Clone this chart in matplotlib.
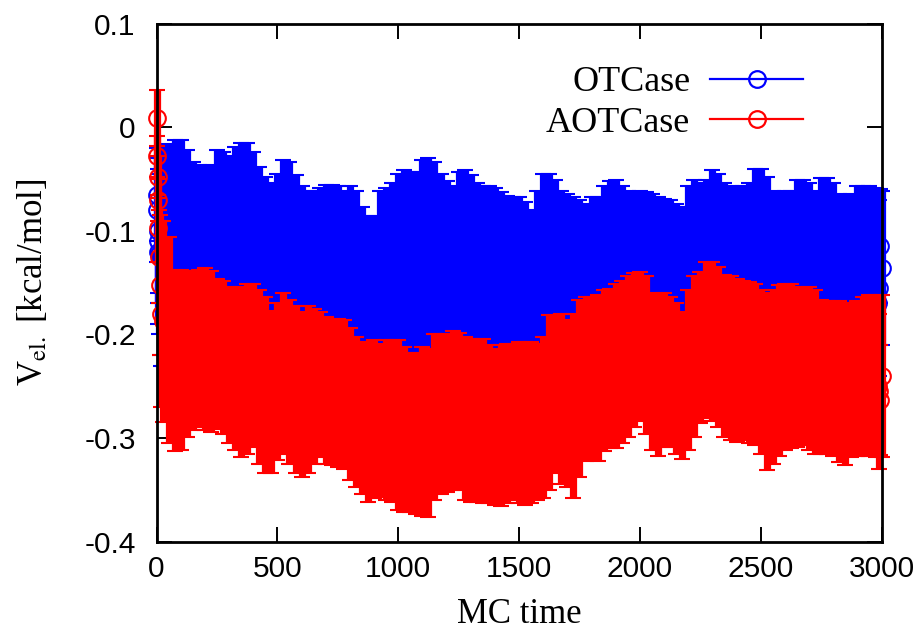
import numpy as np
import matplotlib
matplotlib.use("Agg")
import matplotlib.pyplot as plt
from matplotlib.lines import Line2D

# ================================
# DATA (error bar ends)
# ================================
t_start = [0, 2, 4, 6, 8, 10, 15, 20]
t_end = [2985, 2990, 2995, 3000]
mc_time = np.array(t_start + list(range(25, 2976, 25)) + t_end)

# OTCase (blue): upper / lower end of each error bar
ot_hi = [-0.020, -0.030, -0.040, -0.050, -0.050, -0.045, -0.030, -0.020,
         -0.017, -0.016, -0.012, -0.012, -0.022, -0.033, -0.036, -0.038, -0.036, -0.022,
         -0.024, -0.028, -0.019, -0.015, -0.015, -0.024, -0.038, -0.048, -0.054, -0.045,
         -0.032, -0.033, -0.046, -0.057, -0.061, -0.061, -0.059, -0.056, -0.056, -0.057,
         -0.061, -0.057, -0.061, -0.077, -0.086, -0.086, -0.061, -0.059, -0.054, -0.045,
         -0.041, -0.043, -0.043, -0.032, -0.030, -0.033, -0.045, -0.052, -0.057, -0.043,
         -0.041, -0.046, -0.054, -0.057, -0.057, -0.059, -0.062, -0.066, -0.067, -0.067,
         -0.072, -0.080, -0.061, -0.045, -0.045, -0.051, -0.061, -0.064, -0.067, -0.070,
         -0.074, -0.067, -0.067, -0.057, -0.052, -0.051, -0.057, -0.061, -0.062, -0.061,
         -0.062, -0.064, -0.067, -0.069, -0.070, -0.074, -0.077, -0.057, -0.051, -0.054,
         -0.051, -0.041, -0.045, -0.054, -0.057, -0.059, -0.057, -0.054, -0.040, -0.040,
         -0.048, -0.061, -0.062, -0.061, -0.061, -0.051, -0.051, -0.054, -0.061, -0.049,
         -0.049, -0.054, -0.064, -0.066, -0.064, -0.057, -0.057, -0.057, -0.059,
         -0.080, -0.070, -0.060, -0.061]
ot_lo = [-0.110, -0.130, -0.160, -0.170, -0.190, -0.200, -0.220, -0.230,
         -0.23, -0.22, -0.20, -0.20, -0.20, -0.20, -0.20, -0.20, -0.20, -0.21,
         -0.21, -0.21, -0.22, -0.22, -0.21, -0.21, -0.22, -0.22, -0.23, -0.23,
         -0.22, -0.23, -0.23, -0.24, -0.23, -0.23, -0.24, -0.24, -0.24, -0.24,
         -0.24, -0.25, -0.25, -0.26, -0.26, -0.26, -0.26, -0.26, -0.26, -0.26,
         -0.26, -0.27, -0.27, -0.26, -0.26, -0.25, -0.25, -0.25, -0.25, -0.25,
         -0.25, -0.26, -0.26, -0.26, -0.26, -0.26, -0.26, -0.26, -0.26, -0.26,
         -0.26, -0.26, -0.26, -0.25, -0.24, -0.24, -0.24, -0.24, -0.24, -0.23,
         -0.22, -0.22, -0.22, -0.21, -0.21, -0.21, -0.20, -0.20, -0.20, -0.20,
         -0.20, -0.21, -0.22, -0.22, -0.22, -0.23, -0.23, -0.21, -0.20, -0.20,
         -0.19, -0.19, -0.19, -0.20, -0.20, -0.20, -0.20, -0.20, -0.20, -0.21,
         -0.21, -0.21, -0.21, -0.21, -0.21, -0.21, -0.21, -0.21, -0.21, -0.22,
         -0.22, -0.22, -0.22, -0.22, -0.22, -0.22, -0.22, -0.21, -0.21,
         -0.26, -0.24, -0.17, -0.21]

# AOTCase (red)
aot_hi = [0.036, -0.008, -0.028, -0.050, -0.065, -0.080, -0.085, -0.090,
          -0.090, -0.106, -0.138, -0.138, -0.139, -0.139, -0.138, -0.136, -0.139, -0.146,
          -0.148, -0.154, -0.156, -0.154, -0.151, -0.151, -0.157, -0.164, -0.177, -0.170,
          -0.160, -0.167, -0.173, -0.178, -0.173, -0.175, -0.178, -0.183, -0.185, -0.185,
          -0.186, -0.194, -0.202, -0.209, -0.207, -0.205, -0.209, -0.205, -0.205, -0.205,
          -0.212, -0.218, -0.218, -0.212, -0.214, -0.200, -0.200, -0.200, -0.197, -0.199,
          -0.202, -0.204, -0.204, -0.204, -0.210, -0.214, -0.210, -0.209, -0.209, -0.207,
          -0.207, -0.207, -0.209, -0.202, -0.181, -0.181, -0.180, -0.186, -0.180, -0.167,
          -0.164, -0.164, -0.162, -0.157, -0.156, -0.151, -0.148, -0.144, -0.141, -0.140,
          -0.144, -0.160, -0.162, -0.160, -0.164, -0.170, -0.178, -0.157, -0.144, -0.140,
          -0.130, -0.130, -0.135, -0.143, -0.144, -0.146, -0.148, -0.149, -0.151, -0.157,
          -0.160, -0.157, -0.152, -0.151, -0.151, -0.154, -0.156, -0.154, -0.157, -0.167,
          -0.168, -0.168, -0.168, -0.170, -0.170, -0.168, -0.164, -0.162, -0.162,
          -0.200, -0.180, -0.210, -0.162]
aot_lo = [-0.018, -0.048, -0.068, -0.090, -0.130, -0.170, -0.220, -0.270,
          -0.285, -0.305, -0.313, -0.312, -0.299, -0.292, -0.289, -0.292, -0.294, -0.291,
          -0.296, -0.305, -0.312, -0.318, -0.315, -0.309, -0.325, -0.334, -0.334, -0.321,
          -0.315, -0.325, -0.334, -0.338, -0.334, -0.325, -0.318, -0.325, -0.326, -0.328,
          -0.330, -0.341, -0.347, -0.354, -0.362, -0.358, -0.357, -0.360, -0.362, -0.370,
          -0.371, -0.371, -0.373, -0.375, -0.376, -0.360, -0.354, -0.352, -0.350, -0.350,
          -0.360, -0.362, -0.362, -0.363, -0.363, -0.365, -0.366, -0.363, -0.360, -0.363,
          -0.365, -0.363, -0.360, -0.358, -0.350, -0.334, -0.344, -0.347, -0.358, -0.338,
          -0.322, -0.320, -0.322, -0.313, -0.310, -0.310, -0.305, -0.299, -0.289, -0.284,
          -0.296, -0.312, -0.317, -0.309, -0.309, -0.315, -0.320, -0.312, -0.299, -0.286,
          -0.281, -0.284, -0.289, -0.299, -0.302, -0.304, -0.302, -0.305, -0.307, -0.315,
          -0.331, -0.325, -0.317, -0.312, -0.310, -0.309, -0.307, -0.312, -0.315, -0.315,
          -0.315, -0.317, -0.323, -0.326, -0.318, -0.317, -0.317, -0.317, -0.318,
          -0.300, -0.330, -0.316, -0.318]

series = [("OTCase", ot_hi, ot_lo, "#0000ff"),
          ("AOTCase", aot_hi, aot_lo, "#ff0000")]

xticks = [0, 500, 1000, 1500, 2000, 2500, 3000]
yticks = [-0.4, -0.3, -0.2, -0.1, 0, 0.1]
ytick_labels = ["-0.4", "-0.3", "-0.2", "-0.1", "0", "0.1"]

# ================================
# PLOT
# ================================
plt.rcParams["mathtext.fontset"] = "stix"
serif = "Liberation Serif"
sans = "Liberation Sans"

fig = plt.figure(figsize=(9.23, 6.33), dpi=100)
ax = fig.add_axes([0.1696, 0.1445, 0.7855, 0.8179])

handles = []
for k, (name, hi, lo, col) in enumerate(series):
    hi = np.array(hi)
    lo = np.array(lo)
    mid = (hi + lo) / 2
    err = (hi - lo) / 2
    # later series sits fully on top of the earlier one (bars and circles)
    line, caps, bars = ax.errorbar(mc_time, mid, yerr=err, fmt="o", color=col,
                                   mfc="none", ms=12, mew=1.5, elinewidth=5.2,
                                   capsize=5.5, capthick=1.5, zorder=2 + k)
    # gnuplot lets points and caps spill over the border
    line.set_clip_on(False)
    for c in caps:
        c.set_clip_on(False)
    for b in bars:
        b.set_clip_on(False)
    handles.append(Line2D([], [], color=col, lw=1.6, marker="o", mfc="none",
                          ms=12, mew=1.6, label=name))

ax.set_xlim(0, 3000)
ax.set_ylim(-0.4, 0.1)
ax.set_xticks(xticks)
ax.set_xticklabels([str(v) for v in xticks])
ax.set_yticks(yticks)
ax.set_yticklabels(ytick_labels)
ax.tick_params(direction="in", length=11, width=1.4, top=True, right=True,
               labelsize=21.5)
ax.tick_params(axis="x", pad=10)
ax.tick_params(axis="y", pad=15)
for lab in ax.get_xticklabels() + ax.get_yticklabels():
    lab.set_family(sans)
for s in ax.spines.values():
    s.set_linewidth(2)
    s.set_zorder(5)

ax.set_xlabel("MC time", family=serif, fontsize=25)
ax.set_ylabel(r"V$_{\mathrm{el.}}$ [kcal/mol]", family=serif, fontsize=25)
ax.xaxis.set_label_coords(0.5, -0.109)
ax.yaxis.set_label_coords(-0.147, 0.5)

ax.legend(handles=handles, loc="upper right", bbox_to_anchor=(0.892, 0.9185),
          frameon=False, markerfirst=False, borderpad=0, borderaxespad=0,
          handlelength=2.57, handletextpad=0.56, labelspacing=0.2,
          prop={"family": serif, "size": 26})

fig.savefig("out.png", dpi=100)
